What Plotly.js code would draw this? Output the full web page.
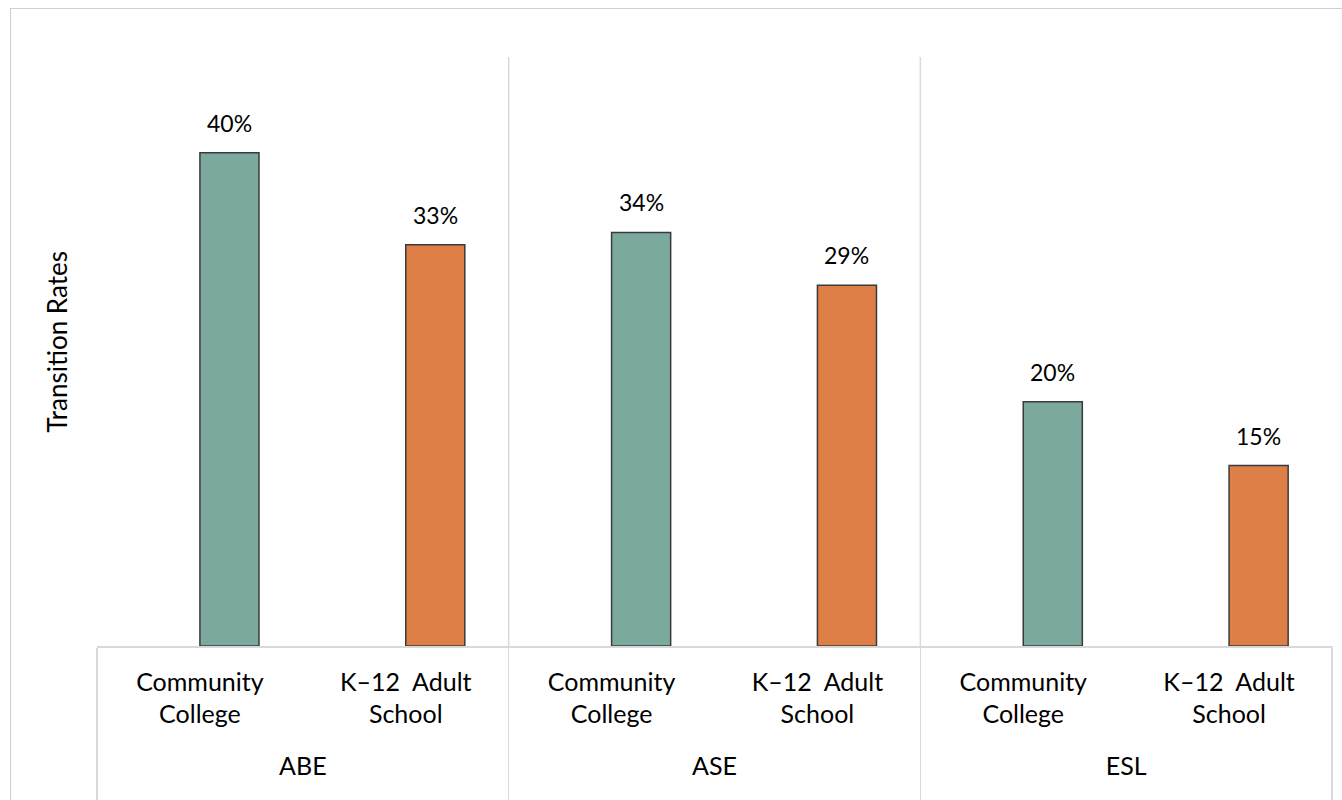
<!DOCTYPE html>
<html>
<head>
<meta charset="utf-8">
<script src="https://cdn.plot.ly/plotly-3.0.1.min.js"></script>
<style>
  html, body { margin: 0; padding: 0; background: #ffffff; }
  #frame { position: absolute; left: 10px; top: 8px; width: 1340px; height: 800px; border: 1px solid #cfcfcf; box-sizing: border-box; }
  #chart { position: absolute; left: 0; top: 0; width: 1342px; height: 800px; }
</style>
</head>
<body>
<div id="frame"></div>
<div id="chart"></div>
<script>
const groups = ["<br>ABE<br>&nbsp;", "<br>ABE<br>&nbsp;", "<br>ASE<br>&nbsp;", "<br>ASE<br>&nbsp;", "<br>ESL<br>&nbsp;", "<br>ESL<br>&nbsp;"];
const providers = ["Community<br>College", "K–12  Adult<br>School", "Community<br>College", "K–12  Adult<br>School", "Community<br>College", "K–12  Adult<br>School"];
const rates = [0.402, 0.327, 0.337, 0.294, 0.199, 0.147];
const rateLabels = ["40%", "33%", "34%", "29%", "20%", "15%"];
const barColors = ["#7BA99E", "#DE7F48", "#7BA99E", "#DE7F48", "#7BA99E", "#DE7F48"];

const FONT = "Lato, 'Open Sans', sans-serif";
const BAR_W = 0.287;

const trace = {
  type: "bar",
  x: [groups, providers],
  y: rates,
  width: BAR_W,
  offset: 0,
  marker: { color: barColors, line: { color: "#3a3a3a", width: 1.5 } },
  hoverinfo: "skip"
};

const annotations = rates.map((v, i) => ({
  xref: "x", yref: "y",
  x: i + BAR_W / 2, y: v,
  text: rateLabels[i],
  showarrow: false,
  xanchor: "center", yanchor: "bottom",
  yshift: 14,
  font: { family: FONT, size: 23, color: "#000000" }
}));

const layout = {
  width: 1342,
  height: 800,
  margin: { l: 97, r: 10, t: 57, b: 154 },
  paper_bgcolor: "rgba(0,0,0,0)",
  plot_bgcolor: "rgba(0,0,0,0)",
  showlegend: false,
  font: { family: FONT, size: 25, color: "#000000" },
  xaxis: {
    type: "multicategory",
    showline: true,
    linecolor: "#d9d9d9",
    linewidth: 1.5,
    showdividers: true,
    dividercolor: "#d9d9d9",
    dividerwidth: 1.5,
    ticks: "",
    ticklabelstandoff: 13,
    tickfont: { family: FONT, size: 25, color: "#000000" },
    showgrid: false
  },
  yaxis: {
    range: [0, 0.48],
    showticklabels: false,
    showgrid: false,
    zeroline: false,
    showline: false,
    ticks: "",
    title: { text: "&nbsp;&nbsp;&nbsp;Transition Rates", font: { family: FONT, size: 26, color: "#000000" }, standoff: 20 }
  },
  annotations: annotations,
  shapes: [
    { type: "line", xref: "x", yref: "paper", x0: 1.5, x1: 1.5, y0: 0, y1: 1, line: { color: "#d9d9d9", width: 1.5 } },
    { type: "line", xref: "x", yref: "paper", x0: 3.5, x1: 3.5, y0: 0, y1: 1, line: { color: "#d9d9d9", width: 1.5 } },
    { type: "line", xref: "paper", yref: "paper", x0: 1, x1: 1, y0: 0, y1: -0.3, line: { color: "#d9d9d9", width: 1.5 } }
  ]
};

Plotly.newPlot("chart", [trace], layout, { displayModeBar: false, staticPlot: true });
</script>
</body>
</html>
